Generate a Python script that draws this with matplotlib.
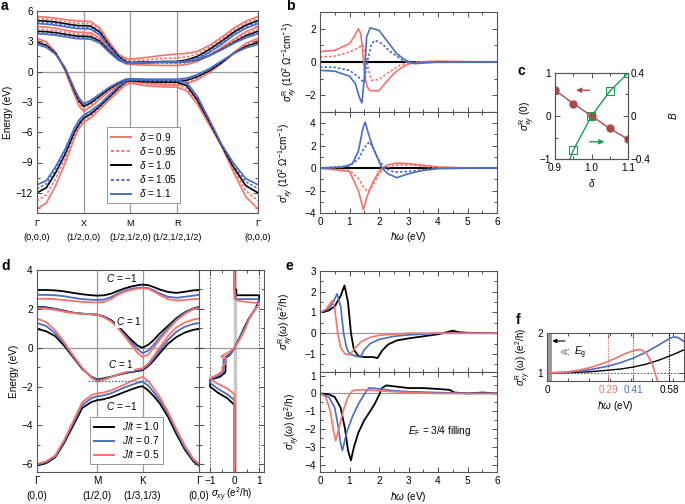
import numpy as np
import matplotlib
matplotlib.use("Agg")
import matplotlib.pyplot as plt
from matplotlib.ticker import MultipleLocator
from matplotlib.lines import Line2D

plt.rcParams['font.family'] = ['Liberation Sans', 'DejaVu Sans']
plt.rcParams['font.size'] = 7.2
plt.rcParams['mathtext.fontset'] = 'custom'
plt.rcParams['mathtext.rm'] = 'Liberation Sans'
plt.rcParams['mathtext.it'] = 'Liberation Sans:italic'
plt.rcParams['mathtext.bf'] = 'Liberation Sans:bold'
plt.rcParams['mathtext.fallback'] = 'cm'
plt.rcParams['axes.linewidth'] = 0.8
plt.rcParams['axes.edgecolor'] = '#555555'

RED = '#f5736b'
BLUE = '#4a6cc4'
DRED = '#b0474a'
GREEN = '#1f9a55'
GRAY = '#9a9a9a'

# ---------------- panel a data ----------------
a_path_labels = ['Γ\n(0,0,0)', 'X\n(1/2,0,0)', 'M\n(1/2,1/2,0)', 'R\n(1/2,1/2,1/2)', 'Γ\n(0,0,0)']
a_path_pos = [0.0, 1.0, 2.0, 3.0, 4.732]
a_frac_GX = [0, .2, .4, .6, .8, .9, 1.0]
a_frac_XM = [.15, .35, .55, .75, .9, 1.0]
a_frac_MR = [.33, .67, 1.0]
a_frac_RG = [.12, .25, .4, .55, .7, .85, 1.0]
a_deltas = ['0.9', '0.95', '1.0', '1.05', '1.1']

a_b1_090 = [5.45, 5.4, 5.3, 5.15, 5.05, 5.0, 5.0, 4.95, 4.3, 2.9, 1.7, 1.3, 1.22, 1.4, 1.6, 1.75, 1.8, 2.0, 2.6, 3.4, 4.3, 5.0, 5.45]
a_b1_095 = [5.25, 5.2, 5.1, 4.95, 4.82, 4.78, 4.78, 4.72, 4.1, 2.75, 1.6, 1.15, 1.05, 1.15, 1.3, 1.35, 1.45, 1.75, 2.4, 3.2, 4.1, 4.8, 5.25]
a_b1_100 = [5.05, 5.0, 4.9, 4.75, 4.6, 4.55, 4.55, 4.5, 3.9, 2.6, 1.5, 1.0, 0.9, 0.95, 1.0, 1.0, 1.15, 1.5, 2.2, 3.0, 3.9, 4.6, 5.05]
a_b1_105 = [4.9, 4.85, 4.75, 4.6, 4.45, 4.4, 4.4, 4.35, 3.75, 2.5, 1.4, 0.95, 0.85, 0.9, 0.95, 0.95, 1.05, 1.35, 2.05, 2.85, 3.75, 4.45, 4.9]
a_b1_110 = [4.75, 4.7, 4.6, 4.45, 4.3, 4.25, 4.25, 4.2, 3.6, 2.4, 1.3, 0.9, 0.8, 0.85, 0.9, 0.9, 1.0, 1.25, 1.9, 2.7, 3.6, 4.3, 4.75]

a_b2_090 = [4.45, 4.4, 4.3, 4.1, 3.95, 3.9, 3.9, 3.85, 3.3, 2.2, 1.2, 0.75, 0.7, 0.65, 0.6, 0.6, 0.7, 1.0, 1.6, 2.4, 3.2, 3.95, 4.45]
a_b2_095 = [4.2, 4.15, 4.05, 3.9, 3.75, 3.7, 3.7, 3.65, 3.15, 2.1, 1.2, 0.85, 0.8, 0.8, 0.8, 0.8, 0.85, 1.1, 1.6, 2.3, 3.05, 3.75, 4.2]
a_b2_100 = [4.0, 3.95, 3.85, 3.7, 3.55, 3.5, 3.5, 3.45, 3.0, 2.0, 1.2, 0.9, 0.85, 0.9, 0.95, 0.95, 1.0, 1.15, 1.6, 2.2, 2.9, 3.55, 4.0]
a_b2_105 = [3.85, 3.8, 3.7, 3.55, 3.4, 3.35, 3.35, 3.3, 2.9, 1.95, 1.15, 0.9, 0.85, 0.9, 0.95, 0.95, 1.0, 1.15, 1.6, 2.2, 2.85, 3.45, 3.85]
a_b2_110 = [3.75, 3.7, 3.6, 3.45, 3.3, 3.25, 3.25, 3.2, 2.8, 1.9, 1.1, 0.9, 0.85, 0.9, 0.95, 0.95, 1.0, 1.15, 1.6, 2.15, 2.8, 3.35, 3.75]

a_b3_090 = [3.3, 2.95, 1.9, 0.1, -2.3, -3.4, -3.95, -3.5, -2.7, -1.95, -1.35, -1.05, -1.0, -1.15, -1.3, -1.35, -1.2, -0.8, -0.1, 0.8, 1.9, 2.8, 3.3]
a_b3_095 = [3.1, 2.8, 1.85, 0.2, -2.1, -3.15, -3.7, -3.3, -2.55, -1.8, -1.25, -0.95, -0.9, -1.05, -1.1, -1.15, -1.0, -0.65, 0.0, 0.85, 1.85, 2.65, 3.1]
a_b3_100 = [2.9, 2.6, 1.8, 0.3, -1.9, -2.9, -3.45, -3.1, -2.4, -1.7, -1.15, -0.85, -0.8, -0.9, -0.95, -0.95, -0.85, -0.5, 0.1, 0.9, 1.8, 2.5, 2.9]
a_b3_105 = [2.8, 2.5, 1.75, 0.35, -1.8, -2.75, -3.3, -2.95, -2.3, -1.6, -1.1, -0.8, -0.75, -0.8, -0.85, -0.85, -0.75, -0.4, 0.2, 1.0, 1.8, 2.4, 2.8]
a_b3_110 = [2.7, 2.4, 1.7, 0.4, -1.7, -2.6, -3.2, -2.85, -2.2, -1.55, -1.05, -0.75, -0.7, -0.75, -0.75, -0.75, -0.65, -0.3, 0.3, 1.05, 1.8, 2.35, 2.7]

a_b4_090 = [-13.6, -13.0, -11.3, -9.1, -6.6, -5.6, -5.0, -4.6, -3.7, -2.8, -1.9, -1.3, -1.15, -1.4, -1.5, -1.55, -1.9, -3.2, -5.3, -7.4, -10.0, -12.4, -13.6]
a_b4_095 = [-12.8, -12.2, -10.6, -8.6, -6.3, -5.4, -4.8, -4.4, -3.55, -2.65, -1.75, -1.15, -1.0, -1.2, -1.25, -1.3, -1.65, -3.0, -5.15, -7.35, -9.75, -11.8, -12.8]
a_b4_100 = [-12.0, -11.5, -10.0, -8.2, -6.0, -5.2, -4.6, -4.2, -3.4, -2.5, -1.6, -1.0, -0.9, -1.0, -1.05, -1.05, -1.4, -2.8, -5.0, -7.3, -9.5, -11.3, -12.0]
a_b4_105 = [-11.6, -11.1, -9.7, -7.9, -5.8, -5.0, -4.45, -4.05, -3.3, -2.4, -1.5, -0.95, -0.85, -0.9, -0.95, -0.95, -1.25, -2.6, -4.9, -7.25, -9.3, -10.9, -11.6]
a_b4_110 = [-11.2, -10.8, -9.4, -7.7, -5.6, -4.8, -4.3, -3.9, -3.2, -2.3, -1.45, -0.9, -0.8, -0.85, -0.85, -0.85, -1.1, -2.45, -4.8, -7.2, -9.1, -10.6, -11.2]

# ---------------- panel b data ----------------
b_R_x_red = [0, 0.5, 1.0, 1.15, 1.3, 1.38, 1.45, 1.52, 1.6, 1.7, 2.0, 2.2, 2.5, 2.75, 3.0, 3.5, 4.0, 5.0, 6.0]
b_R_y_red = [0.62, 0.7, 1.1, 1.5, 2.0, 1.7, 0.6, -0.8, -1.5, -1.72, -1.72, -1.3, -0.7, -0.35, -0.12, 0.02, 0.05, 0.02, 0.0]
b_R_x_reddot = [0, 0.5, 1.0, 1.3, 1.45, 1.55, 1.65, 1.75, 2.0, 2.3, 2.7, 3.0, 3.5, 6.0]
b_R_y_reddot = [0.3, 0.35, 0.6, 0.85, 1.02, 0.5, -0.5, -1.1, -1.05, -0.65, -0.2, -0.05, 0.02, 0.0]
b_R_x_blue = [0, 0.5, 1.0, 1.2, 1.33, 1.42, 1.5, 1.58, 1.7, 2.0, 2.3, 2.6, 2.9, 3.2, 3.6, 4.0, 6.0]
b_R_y_blue = [-0.5, -0.55, -0.85, -1.3, -2.1, -2.45, -1.0, 1.5, 2.05, 1.9, 1.2, 0.5, 0.1, -0.1, -0.05, 0.0, 0.0]
b_R_x_bluedot = [0, 0.5, 1.0, 1.3, 1.5, 1.6, 1.75, 1.87, 2.1, 2.4, 2.8, 3.0, 3.5, 6.0]
b_R_y_bluedot = [-0.3, -0.32, -0.5, -0.9, -1.25, 0.0, 1.1, 1.3, 1.1, 0.6, 0.1, -0.05, -0.02, 0.0]

b_I_x_blue = [0, 0.8, 1.1, 1.3, 1.45, 1.53, 1.65, 1.8, 2.0, 2.1, 2.3, 2.6, 3.0, 3.5, 4.0, 5.0, 6.0]
b_I_y_blue = [0, 0.1, 0.4, 1.5, 3.5, 4.1, 3.0, 1.8, 0.6, 0.0, -0.5, -0.85, -0.5, -0.2, -0.05, 0.0, 0.0]
b_I_x_bluedot = [0, 1.0, 1.3, 1.5, 1.67, 1.8, 2.0, 2.2, 2.5, 3.0, 3.5, 4.0, 6.0]
b_I_y_bluedot = [0, 0.2, 0.8, 1.8, 2.35, 1.8, 0.7, 0.0, -0.35, -0.3, -0.15, 0.0, 0.0]
b_I_x_red = [0, 1.0, 1.3, 1.47, 1.6, 1.8, 2.0, 2.1, 2.3, 2.6, 3.0, 3.5, 4.0, 4.5, 5.0, 6.0]
b_I_y_red = [0, -0.3, -2.0, -3.7, -2.5, -1.2, -0.3, 0.0, 0.3, 0.45, 0.4, 0.25, 0.1, 0.05, 0.0, 0.0]
b_I_x_reddot = [0, 1.0, 1.3, 1.5, 1.63, 1.8, 2.0, 2.2, 2.5, 3.0, 3.5, 4.0, 6.0]
b_I_y_reddot = [0, -0.2, -0.9, -1.8, -2.1, -1.5, -0.5, 0.0, 0.25, 0.3, 0.15, 0.05, 0.0]

# ---------------- panel c data ----------------
c_delta = [0.9, 0.95, 1.0, 1.05, 1.1]
c_sigma0 = [0.6, 0.29, 0.0, -0.29, -0.54]
c_B = [-0.76, -0.32, 0.0, 0.23, 0.40]

# ---------------- panel d data ----------------
d_path_labels = ['Γ\n(0,0)', 'M\n(1/2,0)', 'K\n(1/3,1/3)', 'Γ\n(0,0)']
d_path_pos = [0.0, 1.0, 1.747, 2.681]
d_frac_GM = [0, .15, .3, .45, .6, .75, .9, 1.0]
d_frac_MK = [.15, .3, .45, .6, .75, .9, 1.0]
d_frac_KG = [.1, .2, .3, .45, .6, .75, .9, 1.0]
d_Jt = ['1.0', '0.7', '0.5']

d_b4_10 = [2.97, 2.97, 2.95, 2.9, 2.82, 2.75, 2.7, 2.68, 2.7, 2.78, 2.92, 3.05, 3.15, 3.22, 3.25, 3.22, 3.12, 3.0, 2.87, 2.82, 2.88, 2.95, 2.97]
d_b4_07 = [2.72, 2.72, 2.7, 2.65, 2.57, 2.5, 2.47, 2.46, 2.48, 2.6, 2.78, 2.93, 3.03, 3.08, 3.1, 3.07, 2.95, 2.8, 2.62, 2.57, 2.62, 2.68, 2.72]
d_b4_05 = [2.52, 2.52, 2.5, 2.45, 2.4, 2.36, 2.34, 2.33, 2.36, 2.5, 2.72, 2.88, 2.98, 3.04, 3.06, 3.03, 2.9, 2.72, 2.5, 2.43, 2.46, 2.5, 2.52]

d_b3_10 = [2.1, 2.08, 2.0, 1.9, 1.8, 1.75, 1.72, 1.7, 1.6, 1.42, 1.13, 0.77, 0.4, 0.09, 0.0, 0.15, 0.4, 0.72, 1.12, 1.52, 1.82, 2.02, 2.1]
d_b3_07 = [2.07, 2.05, 1.98, 1.88, 1.8, 1.75, 1.72, 1.7, 1.58, 1.38, 1.06, 0.68, 0.28, -0.1, -0.28, -0.15, 0.15, 0.52, 1.0, 1.45, 1.78, 2.0, 2.07]
d_b3_05 = [2.03, 2.0, 1.95, 1.85, 1.78, 1.74, 1.72, 1.7, 1.56, 1.35, 1.02, 0.6, 0.15, -0.3, -0.48, -0.35, 0.0, 0.4, 0.92, 1.4, 1.75, 1.98, 2.03]

d_b2_10 = [0.97, 0.85, 0.6, 0.1, -0.5, -1.1, -1.5, -1.64, -1.57, -1.5, -1.4, -1.32, -1.25, -1.2, -1.16, -0.95, -0.65, -0.3, 0.2, 0.55, 0.78, 0.92, 0.97]
d_b2_07 = [1.27, 1.12, 0.75, 0.2, -0.45, -1.05, -1.5, -1.68, -1.6, -1.5, -1.4, -1.3, -1.22, -1.16, -1.12, -0.9, -0.55, -0.15, 0.4, 0.82, 1.08, 1.22, 1.27]
d_b2_05 = [1.5, 1.32, 0.9, 0.28, -0.4, -1.05, -1.55, -1.75, -1.65, -1.52, -1.38, -1.27, -1.17, -1.1, -1.05, -0.82, -0.42, 0.0, 0.6, 1.05, 1.3, 1.45, 1.5]

d_b1_10 = [-6.07, -5.95, -5.65, -4.9, -4.0, -3.1, -2.8, -2.7, -2.65, -2.55, -2.42, -2.28, -2.15, -2.03, -1.98, -2.2, -2.5, -2.85, -3.55, -4.45, -5.25, -5.85, -6.07]
d_b1_07 = [-6.02, -5.9, -5.6, -4.82, -3.88, -2.95, -2.6, -2.5, -2.45, -2.35, -2.2, -2.05, -1.92, -1.8, -1.75, -1.95, -2.3, -2.68, -3.4, -4.3, -5.15, -5.78, -6.02]
d_b1_05 = [-5.98, -5.85, -5.55, -4.75, -3.78, -2.8, -2.45, -2.35, -2.3, -2.2, -2.05, -1.9, -1.72, -1.58, -1.5, -1.72, -2.1, -2.52, -3.3, -4.2, -5.05, -5.72, -5.98]

d_gap_level = -1.7
d_gap_k = [0.836, 1.847]

# side panel: Hall conductance vs Fermi energy
s_E_10 = [-6.4, -2.95, -2.6, -2.3, -2.1, -2.0, -1.65, -1.5, -1.3, -1.2, -0.5, -0.3, 0.0, 0.5, 1.0, 1.5, 2.0, 2.3, 2.45, 2.7, 2.7, 3.0, 3.0, 4.0]
s_s_10 = [0, 0, -0.3, -0.7, -0.9, -1.0, -1.0, -0.6, -0.4, -0.37, -0.37, -0.15, 0.0, 0.2, 0.38, 0.58, 0.85, 0.95, 1.0, 1.0, 0.07, 0.07, 0.0, 0.0]
s_E_07 = [-6.4, -2.7, -2.4, -2.1, -1.9, -1.8, -1.6, -1.4, -1.25, -1.1, -0.6, -0.4, 0.0, 0.5, 1.0, 1.5, 2.0, 2.2, 2.3, 2.5, 2.5, 2.75, 2.75, 4.0]
s_s_07 = [0, 0, -0.3, -0.7, -0.9, -1.0, -0.95, -0.6, -0.45, -0.45, -0.45, -0.2, 0.0, 0.2, 0.4, 0.6, 0.85, 0.95, 0.98, 0.98, 0.05, 0.05, 0.0, 0.0]
s_E_05 = [-6.4, -2.4, -2.1, -1.85, -1.65, -1.55, -1.4, -1.2, -1.0, -0.8, -0.55, -0.45, -0.2, 0.0, 0.5, 1.0, 1.5, 1.9, 2.2, 2.3, 2.4, 2.5, 4.0]
s_s_05 = [0, 0, -0.3, -0.7, -0.95, -1.0, -0.7, -0.5, -0.5, -0.35, -0.35, -0.55, -0.2, 0.0, 0.25, 0.45, 0.6, 0.8, 1.0, 0.9, 0.2, 0.0, 0.0]

# ---------------- panel e data ----------------
e_R_x_10 = [0, 0.3, 0.5, 0.7, 0.83, 0.95, 1.05, 1.15, 1.3, 1.5, 1.8, 1.95, 2.1, 2.3, 2.6, 3.0, 3.5, 4.0, 4.3, 4.5, 4.7, 5.0, 6.0]
e_R_y_10 = [1.0, 1.1, 1.3, 1.8, 2.3, 1.5, 0.0, -0.8, -1.1, -1.15, -1.15, -1.2, -0.85, -0.55, -0.35, -0.25, -0.15, -0.05, 0.05, 0.12, 0.05, 0.02, 0.0]
e_R_x_07 = [0, 0.3, 0.45, 0.58, 0.7, 0.8, 0.9, 1.0, 1.2, 1.37, 1.5, 1.7, 2.0, 2.5, 3.0, 4.0, 6.0]
e_R_y_07 = [1.0, 1.2, 1.5, 1.9, 1.3, 0.0, -0.7, -1.0, -1.1, -1.15, -0.8, -0.5, -0.3, -0.15, -0.08, 0.0, 0.0]
e_R_x_05 = [0, 0.2, 0.35, 0.42, 0.5, 0.6, 0.7, 0.85, 1.0, 1.2, 1.4, 1.7, 2.0, 2.5, 3.0, 6.0]
e_R_y_05 = [1.0, 1.15, 1.45, 1.58, 1.2, 0.0, -0.7, -1.0, -1.05, -0.7, -0.4, -0.2, -0.1, -0.05, 0.0, 0.0]

e_I_x_10 = [0, 0.3, 0.5, 0.7, 0.85, 0.95, 1.05, 1.15, 1.3, 1.5, 1.7, 1.85, 2.0, 2.1, 2.25, 2.5, 3.0, 3.5, 4.0, 4.4, 4.55, 5.0, 5.5, 6.0]
e_I_y_10 = [0, -0.05, -0.2, -0.8, -2.0, -3.2, -3.75, -3.0, -2.2, -1.5, -1.0, -0.6, -0.1, 0.3, 0.45, 0.4, 0.3, 0.3, 0.25, 0.2, 0.05, 0.0, 0.05, 0.0]
e_I_x_07 = [0, 0.3, 0.5, 0.6, 0.7, 0.76, 0.9, 1.1, 1.3, 1.5, 1.65, 1.8, 2.0, 2.5, 3.0, 4.0, 5.0, 6.0]
e_I_y_07 = [0, -0.2, -0.8, -1.7, -2.8, -3.2, -2.2, -1.3, -0.6, -0.05, 0.3, 0.3, 0.25, 0.15, 0.1, 0.05, 0.0, 0.0]
e_I_x_05 = [0, 0.2, 0.35, 0.45, 0.53, 0.65, 0.8, 0.95, 1.1, 1.3, 1.6, 2.0, 2.5, 3.0, 4.0, 6.0]
e_I_y_05 = [0, -0.2, -1.0, -2.0, -2.65, -1.9, -0.9, -0.2, 0.15, 0.2, 0.2, 0.15, 0.1, 0.05, 0.0, 0.0]

# ---------------- panel f data ----------------
f_x_red = [0, 0.05, 0.1, 0.15, 0.2, 0.25, 0.29, 0.33, 0.37, 0.41, 0.44, 0.47, 0.5, 0.53]
f_y_red = [1.0, 1.01, 1.03, 1.07, 1.13, 1.21, 1.29, 1.38, 1.48, 1.56, 1.59, 1.52, 1.22, 0.7]
f_x_blue = [0, 0.1, 0.2, 0.29, 0.35, 0.41, 0.47, 0.53, 0.58, 0.6, 0.62, 0.65]
f_y_blue = [1.0, 1.02, 1.08, 1.17, 1.26, 1.375, 1.52, 1.7, 1.86, 1.9, 1.89, 1.79]
f_x_black = [0, 0.1, 0.2, 0.29, 0.35, 0.41, 0.47, 0.53, 0.58, 0.62, 0.65]
f_y_black = [1.0, 1.01, 1.03, 1.07, 1.1, 1.15, 1.22, 1.32, 1.42, 1.51, 1.58]
f_gaps = [0.29, 0.41, 0.58]
f_gap_labels = ['0.29', '0.41', '0.58']

# ======================================================
fig = plt.figure(figsize=(6.85, 5.04), dpi=100)
W, H = 685.0, 504.0


def ax_px(l, t, r, b):
    return fig.add_axes([l / W, 1 - b / H, (r - l) / W, (b - t) / H])


def style(ax, right=True, top=True):
    ax.tick_params(which='both', direction='in', top=top, right=right, colors='#333333',
                   labelcolor='black', width=0.6)
    ax.tick_params(which='major', length=3.5, pad=3)
    ax.tick_params(which='minor', length=2)


def label(x, y, s):
    fig.text(x / W, 1 - y / H, s, fontsize=10, fontweight='bold', va='center', ha='left')


def make_legend(axis, hs, anchor):
    lg = axis.legend(handles=hs, loc='lower left', bbox_to_anchor=anchor, frameon=True,
                     fancybox=False, edgecolor='#888888', framealpha=1, handlelength=2.0,
                     borderpad=0.35, labelspacing=0.22, handletextpad=0.8, fontsize=7.2,
                     borderaxespad=0)
    lg.get_frame().set_linewidth(0.6)
    return lg


DOT = (0, (1.5, 1.2))
a_styles = [(RED, '-'), (RED, DOT), ('black', '-'), (BLUE, DOT), (BLUE, '-')]
a_bands = [
    [a_b1_090, a_b2_090, a_b3_090, a_b4_090],
    [a_b1_095, a_b2_095, a_b3_095, a_b4_095],
    [a_b1_100, a_b2_100, a_b3_100, a_b4_100],
    [a_b1_105, a_b2_105, a_b3_105, a_b4_105],
    [a_b1_110, a_b2_110, a_b3_110, a_b4_110],
]

# ---- panel a
P = a_path_pos
ka = np.concatenate([P[0] + np.array(a_frac_GX) * (P[1] - P[0]),
                     P[1] + np.array(a_frac_XM) * (P[2] - P[1]),
                     P[2] + np.array(a_frac_MR) * (P[3] - P[2]),
                     P[3] + np.array(a_frac_RG) * (P[4] - P[3])])
ax = ax_px(37, 11, 258, 213)
for p in P[1:-1]:
    ax.axvline(p, color=GRAY, lw=0.9, zorder=0)
ax.axhline(0, color=GRAY, lw=0.9, zorder=0)
handles = []
for (col, ls), bands, dl in zip(a_styles, a_bands, a_deltas):
    for bd in bands:
        ax.plot(ka, bd, color=col, ls=ls, lw=1.2)
    handles.append(Line2D([], [], color=col, ls=ls, lw=1.4, label=r'$\delta$ = ' + dl))
ax.set_xlim(P[0], P[-1])
ax.set_ylim(-14, 6)
ax.set_xticks(P)
ax.set_xticklabels(a_path_labels, linespacing=1.75, fontsize=6.6)
ax.yaxis.set_major_locator(MultipleLocator(3))
ax.yaxis.set_minor_locator(MultipleLocator(1.5))
ax.set_ylabel('Energy (eV)', labelpad=2)
style(ax)
ax.tick_params(axis='x', which='both', length=0, pad=4)
make_legend(ax, handles, (0.318, 0.05))

# ---- panel b
axb1 = ax_px(320, 12, 497, 112)
axb2 = ax_px(320, 112, 497, 213)
axb1.plot([0, 6], [0, 0], color='black', lw=1.5)
axb1.plot(b_R_x_red, b_R_y_red, color=RED, lw=1.2)
axb1.plot(b_R_x_reddot, b_R_y_reddot, color=RED, lw=1.2, ls=DOT)
axb1.plot(b_R_x_bluedot, b_R_y_bluedot, color=BLUE, lw=1.2, ls=DOT)
axb1.plot(b_R_x_blue, b_R_y_blue, color=BLUE, lw=1.2)
axb1.set_ylim(-3, 3)
axb1.yaxis.set_major_locator(MultipleLocator(2))
axb1.yaxis.set_minor_locator(MultipleLocator(1))
axb1.set_ylabel(r'$\sigma^{\mathrm{R}}_{xy}$ (10$^2$ Ω$^{-1}$cm$^{-1}$)', labelpad=3)

axb2.plot([0, 6], [0, 0], color='black', lw=1.5)
axb2.plot(b_I_x_red, b_I_y_red, color=RED, lw=1.2)
axb2.plot(b_I_x_reddot, b_I_y_reddot, color=RED, lw=1.2, ls=DOT)
axb2.plot(b_I_x_bluedot, b_I_y_bluedot, color=BLUE, lw=1.2, ls=DOT)
axb2.plot(b_I_x_blue, b_I_y_blue, color=BLUE, lw=1.2)
axb2.set_ylim(-4, 5)
axb2.yaxis.set_major_locator(MultipleLocator(2))
axb2.yaxis.set_minor_locator(MultipleLocator(1))
axb2.set_ylabel(r'$\sigma^{\mathrm{I}}_{xy}$ (10$^2$ Ω$^{-1}$cm$^{-1}$)', labelpad=6)
axb2.set_xlabel(r'$\hbar\omega$ (eV)', labelpad=2)
for a_ in (axb1, axb2):
    a_.set_xlim(0, 6)
    a_.xaxis.set_major_locator(MultipleLocator(1))
    a_.xaxis.set_minor_locator(MultipleLocator(0.5))
    style(a_)
axb1.tick_params(labelbottom=False)

# ---- panel c
axc = ax_px(555, 73, 628, 159)
axc.plot(c_delta, c_sigma0, color=DRED, lw=1.0, marker='o', ms=5, zorder=3)
axc.set_xlim(0.9, 1.1)
axc.set_ylim(-1, 1)
axc.set_xticks([0.9, 1.0, 1.1])
axc.set_xticklabels(['0.9', '1.0', '1.1'])
axc.xaxis.set_minor_locator(MultipleLocator(0.05))
axc.yaxis.set_major_locator(MultipleLocator(1))
axc.yaxis.set_minor_locator(MultipleLocator(0.5))
axc.set_xlabel(r'$\delta$', labelpad=3)
axc.set_ylabel(r'$\sigma^{\mathrm{R}}_{xy}$ (0)', labelpad=2)
style(axc, right=False)
axc2 = axc.twinx()
axc2.plot(c_delta, c_B, color=GREEN, lw=1.0, marker='s', ms=6, mfc='none', mec=GREEN, mew=0.8)
axc2.set_ylim(-0.4, 0.4)
axc2.set_yticks([-0.4, 0, 0.4])
axc2.set_yticklabels(['−0.4', '0', '0.4'])
axc2.yaxis.set_minor_locator(MultipleLocator(0.2))
axc2.tick_params(which='both', direction='in', width=0.6, colors='#333333', labelcolor='black')
axc2.tick_params(which='major', length=3.5, pad=2)
axc2.tick_params(which='minor', length=2)
axc2.set_ylabel(r'$B$', rotation=90, labelpad=12)
axc.annotate('', xy=(0.958, 0.6), xytext=(0.995, 0.6),
             arrowprops=dict(arrowstyle='-|>', color=DRED, lw=1.0, mutation_scale=7, shrinkA=0, shrinkB=0))
axc.annotate('', xy=(1.035, -0.6), xytext=(0.995, -0.6),
             arrowprops=dict(arrowstyle='-|>', color=GREEN, lw=1.0, mutation_scale=7, shrinkA=0, shrinkB=0))

# ---- panel d
d_cols = ['black', BLUE, RED]
d_bands = [
    [d_b1_10, d_b2_10, d_b3_10, d_b4_10],
    [d_b1_07, d_b2_07, d_b3_07, d_b4_07],
    [d_b1_05, d_b2_05, d_b3_05, d_b4_05],
]
Q = d_path_pos
kd = np.concatenate([Q[0] + np.array(d_frac_GM) * (Q[1] - Q[0]),
                     Q[1] + np.array(d_frac_MK) * (Q[2] - Q[1]),
                     Q[2] + np.array(d_frac_KG) * (Q[3] - Q[2])])
axd = ax_px(37, 270, 199, 472)
for p in Q[1:-1]:
    axd.axvline(p, color=GRAY, lw=0.9, zorder=0)
axd.axhline(0, color=GRAY, lw=0.9, zorder=0)
dh = []
for col, bands, jt in zip(d_cols, d_bands, d_Jt):
    for bd in bands:
        axd.plot(kd, bd, color=col, lw=1.3)
    dh.append(Line2D([], [], color=col, lw=1.4, label=r'$J/t$ = ' + jt))
axd.plot(d_gap_k, [d_gap_level, d_gap_level], color=BLUE, lw=1.0, ls=(0, (1.2, 1.2)))
axd.set_xlim(Q[0], Q[-1])
axd.set_ylim(-6.4, 4)
axd.set_xticks(Q)
axd.set_xticklabels(d_path_labels, linespacing=1.65)
axd.yaxis.set_major_locator(MultipleLocator(2))
axd.yaxis.set_minor_locator(MultipleLocator(1))
axd.set_ylabel('Energy (eV)', labelpad=2)
style(axd)
axd.tick_params(axis='x', which='both', length=0, pad=3)
for (kx, ey, t) in [(1.41, 3.6, r'$C$ = −1'), (1.52, 1.37, r'$C$ = 1'),
                    (1.38, -0.85, r'$C$ = 1'), (1.41, -3.0, r'$C$ = −1')]:
    axd.text(kx, ey, t, ha='center', va='center', fontsize=7.2,
             bbox=dict(facecolor='white', edgecolor='none', pad=0.5))
make_legend(axd, dh, (0.33, 0.04))

axs = ax_px(199, 270, 264, 472)
axs.axvline(0, color='#c8c8c8', lw=2.5, zorder=0)
axs.axhline(0, color=GRAY, lw=0.9, zorder=0)
axs.axvline(-1, color='#444444', lw=0.6, ls=(0, (2, 2)))
axs.axvline(1, color='#444444', lw=0.6, ls=(0, (2, 2)))
axs.plot(s_s_10, s_E_10, color='black', lw=1.3)
axs.plot(s_s_07, s_E_07, color=BLUE, lw=1.3)
axs.plot(s_s_05, s_E_05, color=RED, lw=1.3)
axs.set_xlim(-1.45, 1.2)
axs.set_ylim(-6.4, 4)
axs.set_xticks([-1, 0, 1])
axs.set_xticklabels(['−1', '0', '1'])
axs.xaxis.set_minor_locator(MultipleLocator(0.5))
axs.yaxis.set_major_locator(MultipleLocator(2))
axs.yaxis.set_minor_locator(MultipleLocator(1))
style(axs)
axs.tick_params(labelleft=False)
axs.tick_params(axis='x', pad=3)
axs.set_xlabel(r'$\sigma_{xy}$ (e$^2$/h)', fontsize=7)
axs.xaxis.set_label_coords(0.5, -0.07)

# ---- panel e
axe1 = ax_px(320, 271, 497, 372)
axe2 = ax_px(320, 372, 497, 472)
for a_ in (axe1, axe2):
    a_.axhline(0, color=GRAY, lw=0.9, zorder=0)
axe1.plot(e_R_x_10, e_R_y_10, color='black', lw=1.3)
axe1.plot(e_R_x_07, e_R_y_07, color=BLUE, lw=1.2)
axe1.plot(e_R_x_05, e_R_y_05, color=RED, lw=1.2)
axe2.plot(e_I_x_10, e_I_y_10, color='black', lw=1.3)
axe2.plot(e_I_x_07, e_I_y_07, color=BLUE, lw=1.2)
axe2.plot(e_I_x_05, e_I_y_05, color=RED, lw=1.2)
axe1.set_ylim(-1.87, 3)
axe2.set_ylim(-4.4, 1.2)
axe1.set_ylabel(r'$\sigma^{\mathrm{R}}_{xy}(\omega)$ (e$^2$/h)', labelpad=6)
axe2.set_ylabel(r'$\sigma^{\mathrm{I}}_{xy}(\omega)$ (e$^2$/h)', labelpad=2)
axe2.set_xlabel(r'$\hbar\omega$ (eV)', labelpad=3)
for a_ in (axe1, axe2):
    a_.set_xlim(0, 6)
    a_.xaxis.set_major_locator(MultipleLocator(1))
    a_.xaxis.set_minor_locator(MultipleLocator(0.5))
    a_.yaxis.set_major_locator(MultipleLocator(1))
    a_.yaxis.set_minor_locator(MultipleLocator(0.5))
    style(a_)
axe1.tick_params(labelbottom=False)
axe2.text(3.0, -2.1, r'$E_{\mathrm{F}}$ = 3/4 filling', fontsize=7.2, va='center')

# ---- panel f
axf = ax_px(547, 333, 684, 381)
axf.axvspan(0, 0.022, color='#9a9a9a', lw=0)
axf.axhline(1, color='#333333', lw=0.6, ls=(0, (2, 2)))
for g, col in zip(f_gaps, [RED, BLUE, 'black']):
    axf.axvline(g, color=col, lw=0.8, ls=(0, (1.2, 1.2)))
axf.plot(f_x_black, f_y_black, color='black', lw=1.0)
axf.plot(f_x_blue, f_y_blue, color=BLUE, lw=1.2)
axf.plot(f_x_red, f_y_red, color=RED, lw=1.2)
axf.set_xlim(0, 0.65)
axf.set_ylim(0.8, 2.0)
axf.set_xticks([0] + f_gaps)
axf.set_xticklabels(['0'] + f_gap_labels)
axf.set_yticks([1, 2])
axf.xaxis.set_minor_locator(MultipleLocator(0.1))
style(axf)
for tl, col in zip(axf.get_xticklabels(), ['black', RED, BLUE, 'black']):
    tl.set_color(col)
axf.set_xlabel(r'$\hbar\omega$ (eV)', labelpad=3)
axf.set_ylabel(r'$\sigma^{\mathrm{R}}_{xy}$ (ω) (e$^2$/h)', labelpad=3, fontsize=7)
axf.annotate('', xy=(0.025, 1.8), xytext=(0.085, 1.8),
             arrowprops=dict(arrowstyle='-|>', color='black', lw=0.8, mutation_scale=6, shrinkA=0, shrinkB=0))
axf.text(0.05, 1.5, r'$\ll$ $E_{\mathrm{g}}$', fontsize=7.2, va='center')

# panel letters
label(1, 6, 'a')
label(286, 6, 'b')
label(518, 71, 'c')
label(1, 266, 'd')
label(286, 266, 'e')
label(516, 320, 'f')

fig.savefig('out.png', dpi=100)
